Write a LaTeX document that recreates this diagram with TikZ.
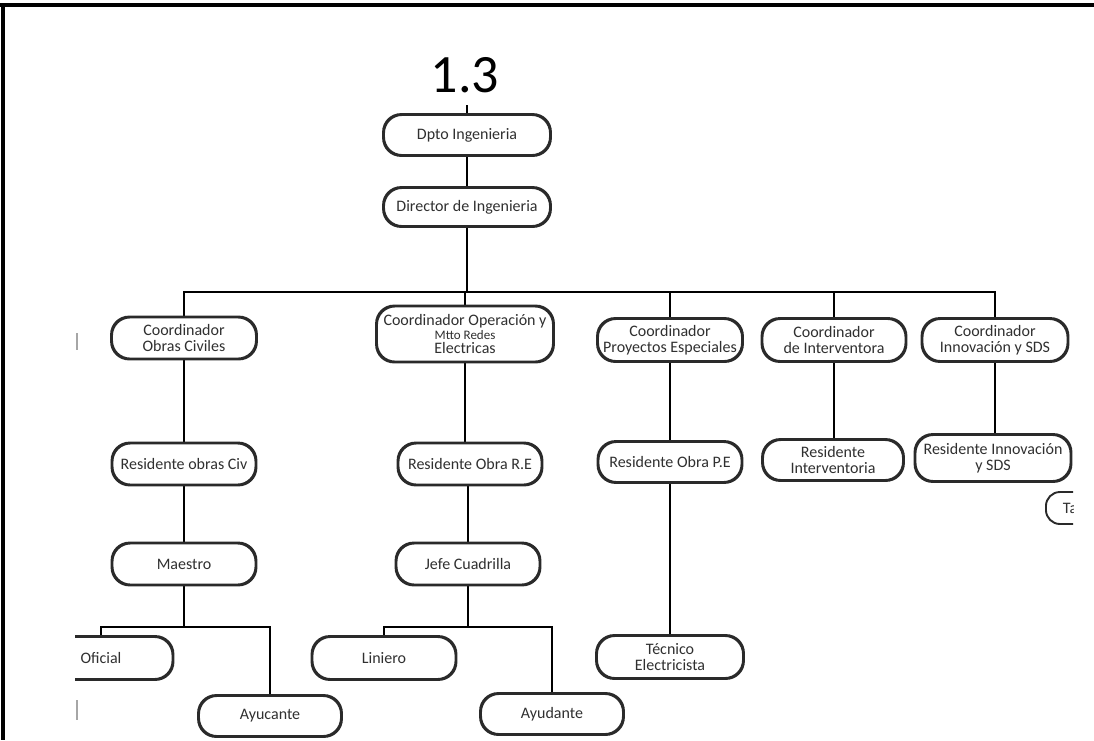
\documentclass[tikz,border=0pt]{standalone}
\usepackage{fontspec}
\setmainfont{Carlito}
\definecolor{boxc}{HTML}{2A2A2A}
\definecolor{txtc}{HTML}{303030}
\newcommand{\boxfont}{\fontsize{16}{16.5}\selectfont}
\begin{document}
\begin{tikzpicture}[x=1pt,y=-1pt,
  box/.style={draw=boxc, line width=1.9pt, rounded corners=18pt, fill=white,
    minimum width=143pt, minimum height=41pt, align=center, font=\boxfont,
    text=txtc, inner sep=1pt},
  conn/.style={line width=2.6pt, draw=black},
  frameline/.style={line width=4pt, draw=black},
  stub/.style={line width=1.6pt, draw=gray!70}]
\useasboundingbox (0,0) rectangle (1094,740);
% outer frame
\draw[frameline] (0,5) -- (1094,5);
\draw[frameline] (3,5) -- (3,740);
% title
\node[anchor=base, font=\fontsize{54}{60}\selectfont, inner sep=0pt] (title) at (465,92) {1.3};
\begin{scope}
\clip (75,0) rectangle (1073,740);
% nodes
\node[box, minimum width=166pt, minimum height=40pt] (dpto) at (467,135) {Dpto Ingenieria};
\node[box, minimum width=166pt, minimum height=38pt] (dir) at (467,207) {Director de Ingenieria};
\node[box, minimum width=144pt] (c1) at (184,338) {Coordinador\\Obras Civiles};
\node[box, minimum width=176pt, minimum height=55pt, inner sep=0pt] (c2) at (465,334)
  {Coordinador Operación y\\[-3pt]{\fontsize{13}{13}\selectfont Mtto Redes}\\[-2pt]Electricas};
\node[box, minimum width=144pt, minimum height=42pt] (c3) at (670,340) {Coordinador\\Proyectos Especiales};
\node[box, minimum width=143pt, minimum height=42pt] (c4) at (834,340) {Coordinador\\de Interventora};
\node[box, minimum width=145pt, minimum height=42pt] (c5) at (995,340) {Coordinador\\Innovación y SDS};
\node[box] (r1) at (184,464) {Residente obras Civ};
\node[box] (r2) at (470,464) {Residente Obra R.E};
\node[box, minimum height=40pt] (r3) at (670,462) {Residente Obra P.E};
\node[box, minimum width=140pt, minimum height=40pt] (r4) at (833,460) {Residente\\Interventoria};
\node[box, minimum width=155pt, minimum height=46pt] (r5) at (993,458) {Residente Innovación\\y SDS};
\node[box, anchor=west, minimum width=0pt, minimum height=32pt, inner xsep=17pt, rounded corners=14pt] (ta) at (1045,508) {Ta\hspace{40pt}};
\node[box] (m1) at (184,564) {Maestro};
\node[box] (m2) at (468,564) {Jefe Cuadrilla};
\node[box, minimum width=146pt, minimum height=42pt] (t3) at (670,657) {Técnico\\Electricista};
\node[box, minimum height=42pt] (of) at (101,658) {Oficial};
\node[box, minimum width=142pt, minimum height=40pt] (ay1) at (270,716) {Ayucante};
\node[box, minimum height=42pt] (li) at (384,658) {Liniero};
\node[box, minimum width=142pt, minimum height=40pt] (ay2) at (552,714) {Ayudante};
% coordinates
\coordinate (top) at (467,105);
\coordinate (bus) at (467,292);
\coordinate (busA) at (184,627);
\coordinate (busB) at (468,627);
% connectors
\draw[conn] (top) -- (dpto.north);
\draw[conn] (dpto.south) -- (dir.north);
\draw[conn] (dir.south) -- (bus);
\draw[conn] (c1.north) |- (bus);
\draw[conn] (c5.north) |- (bus);
\draw[conn] (c2.north) -- (c2.north |- bus);
\draw[conn] (c3.north) -- (c3.north |- bus);
\draw[conn] (c4.north) -- (c4.north |- bus);
\draw[conn] (c1.south) -- (r1.north);
\draw[conn] (c2.south) -- (r2.north -| c2.south);
\draw[conn] (c3.south) -- (r3.north);
\draw[conn] (c4.south) -- (r4.north -| c4.south);
\draw[conn] (c5.south) -- (r5.north -| c5.south);
\draw[conn] (r1.south) -- (m1.north);
\draw[conn] (r2.south -| m2.north) -- (m2.north);
\draw[conn] (r3.south) -- (t3.north);
\draw[conn] (m1.south) -- (busA);
\draw[conn] (of.north) |- (busA);
\draw[conn] (ay1.north) |- (busA);
\draw[conn] (m2.south) -- (busB);
\draw[conn] (li.north) |- (busB);
\draw[conn] (ay2.north) |- (busB);
% redraw node borders above connectors
\foreach \n in {dpto,dir,c1,c2,c3,c4,c5,r1,r2,r3,r4,r5,m1,m2,t3,of,ay1,li,ay2}{
  \draw[draw=boxc, line width=1.9pt, rounded corners=18pt] (\n.south west) rectangle (\n.north east);
}
% cut-off fragments at left edge
\draw[stub] (77,333) -- (77,350);
\draw[stub] (77,700) -- (77,720);
\end{scope}
\end{tikzpicture}
\end{document}
